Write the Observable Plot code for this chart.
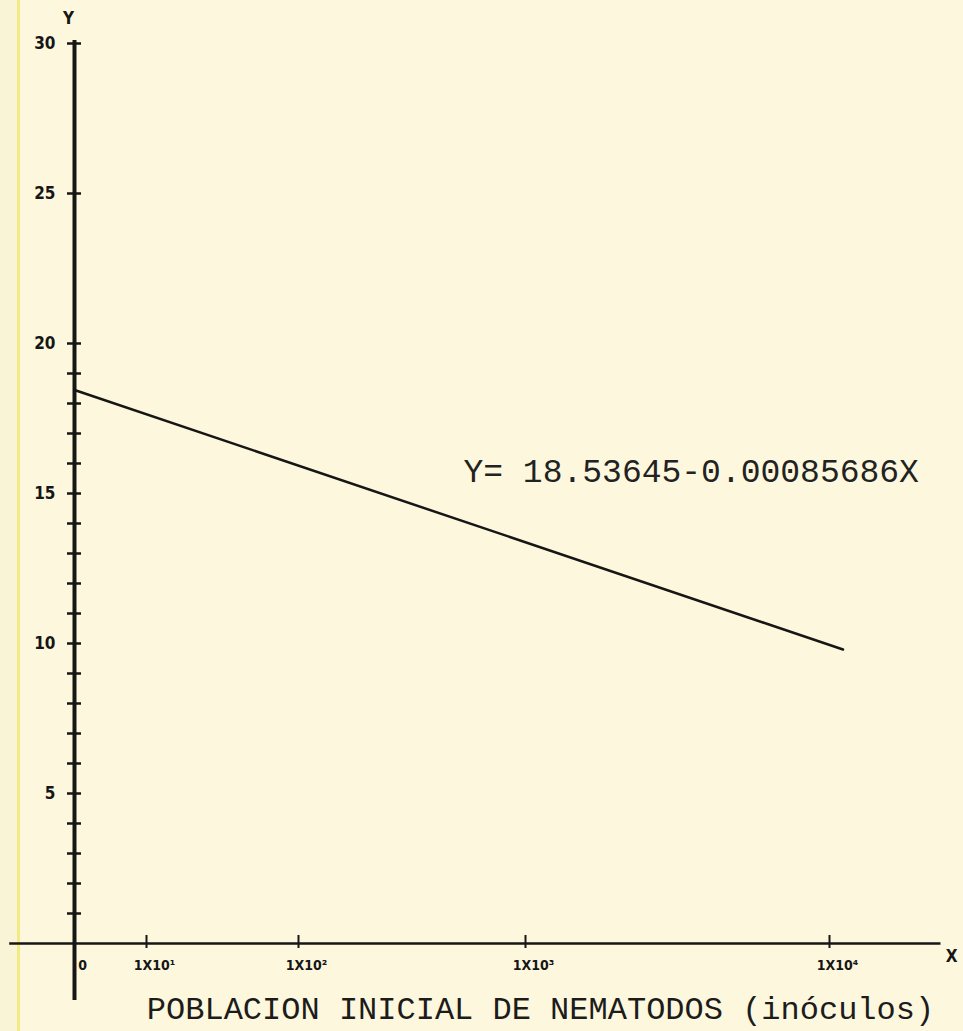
<!DOCTYPE html>
<html><head><meta charset="utf-8">
<script src="https://cdn.jsdelivr.net/npm/d3@7"></script>
<script src="https://cdn.jsdelivr.net/npm/@observablehq/plot@0.6"></script>
<style>
html,body{margin:0;padding:0;}
body{width:963px;height:1031px;overflow:hidden;background:linear-gradient(to right,#faf4d6 0,#faf4d6 17px,#f1eb86 17px,#f1eb86 20px,#fdf8dd 20px);}
#chart svg{display:block;}
</style></head><body><div id="chart"></div>
<script>
// Data
const xTickValues = [0, 10, 100, 1000, 10000];
const xTickLabels = ["0", "1X10¹", "1X10²", "1X10³", "1X10⁴"];
const yMajorTicks = [5, 10, 15, 20, 25, 30];
const yTickLabels = ["5", "10", "15", "20", "25", "30"];
const yMinorTicks = [1, 2, 3, 4, 5, 6, 7, 8, 9, 10, 11, 12, 13, 14, 15, 16, 17, 18, 19, 20, 25, 30];
const lineX = [0, 10400];
const lineY = [18.45, 9.8];
const equationText = "Y= 18.53645-0.00085686X";
const xTitle = "POBLACION INICIAL DE NEMATODOS (inóculos)";

const lineData = lineX.map((x, i) => ({x, y: lineY[i]}));
const xLabelData = xTickValues.map((v, i) => ({v, label: xTickLabels[i]}));
const yLabelData = yMajorTicks.map((v, i) => ({v, label: yTickLabels[i]}));
const ink = "#161616";
const handFont = "'DejaVu Sans Condensed', 'Liberation Sans Narrow', 'DejaVu Sans', sans-serif";

const chart = Plot.plot({
  width: 963,
  height: 1031,
  marginLeft: 74,
  marginRight: 23,
  marginTop: 43,
  marginBottom: 88,
  style: {background: "transparent", overflow: "visible"},
  x: {type: "linear", domain: [0, 10, 100, 1000, 10000], range: [74, 146, 298, 525, 829]},
  y: {domain: [0, 30], range: [943, 43]},
  marks: [
    // axes lines
    Plot.ruleY([0], {x1: -9, x2: 13300, stroke: ink, strokeWidth: 2.5}),
    Plot.ruleX([0], {y1: 30.1, y2: -1.9, stroke: ink, strokeWidth: 4}),
    // y ticks crossing the axis
    Plot.axisY({ticks: yMinorTicks, tickSize: 14, dx: 7, tickFormat: () => "", label: null, stroke: ink, strokeWidth: 2.5}),
    // y tick labels
    Plot.text(yLabelData, {x: 0, y: "v", text: "label", dx: -19, textAnchor: "end", fontSize: 17, fontWeight: 900, fontFamily: handFont, fill: ink}),
    // x ticks
    Plot.axisX({ticks: xTickValues.slice(1), tickSize: 13, dy: -8, tickFormat: () => "", label: null, stroke: ink, strokeWidth: 2}),
    // x tick labels
    Plot.text(xLabelData, {x: "v", y: 0, text: "label", dx: 8, dy: 22, fontSize: 14, fontWeight: 900, fontFamily: handFont, fill: ink}),
    // axis letters
    Plot.text(["Y"], {x: 0, y: 30, dx: -6, dy: -25, fontSize: 17, fontWeight: 900, fontFamily: handFont, fill: ink}),
    Plot.text(["X"], {frameAnchor: "bottom-right", dx: 17, dy: 18, fontSize: 17, fontWeight: 900, fontFamily: handFont, fill: ink}),
    // regression line
    Plot.line(lineData, {x: "x", y: "y", stroke: ink, strokeWidth: 2.5}),
    // equation
    Plot.text([equationText], {x: 754, y: 15.37, textAnchor: "start", lineAnchor: "bottom", fontSize: 33, fontFamily: "Liberation Mono", fill: "#222"}),
    // x title
    Plot.text([xTitle], {frameAnchor: "bottom", dx: 33, dy: 75, lineAnchor: "bottom", fontSize: 32, fontFamily: "Liberation Mono", fill: "#1c1c1c"})
  ]
});
document.getElementById("chart").appendChild(chart);
</script>
</body></html>
